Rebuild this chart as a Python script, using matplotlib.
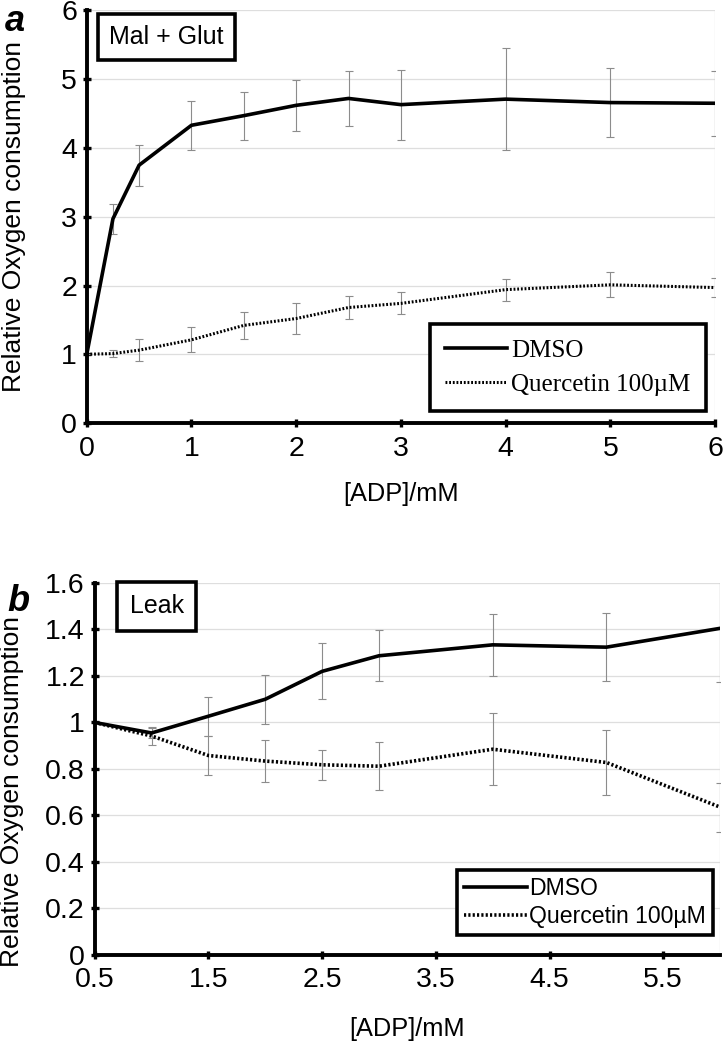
import numpy as np
import matplotlib.pyplot as plt

# panel a : Mal + Glut
adp_a = [0, 0.25, 0.5, 1, 1.5, 2, 2.5, 3, 4, 5, 6]
dmso_a = [1.0, 2.97, 3.75, 4.33, 4.47, 4.62, 4.72, 4.63, 4.71, 4.66, 4.65]
dmso_a_err = [0, 0.22, 0.30, 0.36, 0.35, 0.37, 0.40, 0.51, 0.74, 0.50, 0.47]
quer_a = [1.0, 1.01, 1.06, 1.21, 1.42, 1.52, 1.68, 1.74, 1.94, 2.01, 1.97]
quer_a_err = [0, 0.05, 0.16, 0.18, 0.20, 0.23, 0.17, 0.16, 0.16, 0.18, 0.14]

# panel b : Leak
adp_b = [0.5, 1, 1.5, 2, 2.5, 3, 4, 5, 6]
dmso_b = [1.0, 0.955, 1.027, 1.10, 1.22, 1.287, 1.334, 1.324, 1.405]
dmso_b_err = [0, 0.02, 0.083, 0.105, 0.12, 0.11, 0.133, 0.145, 0.23]
quer_b = [1.0, 0.942, 0.858, 0.834, 0.818, 0.812, 0.885, 0.828, 0.636]
quer_b_err = [0, 0.04, 0.082, 0.09, 0.065, 0.103, 0.155, 0.14, 0.105]

plt.rcParams['font.family'] = ['Liberation Sans', 'DejaVu Sans']

fig = plt.figure(figsize=(7.23, 10.42), dpi=100)
ax1 = fig.add_axes([0.120, 0.594, 0.869, 0.396])
ax2 = fig.add_axes([0.131, 0.0835, 0.865, 0.357])

ebkw = dict(fmt='none', ecolor='#8c8c8c', elinewidth=0.8, capsize=3.0, capthick=0.8, zorder=2)


def style_axes(ax, xpad, ypad):
    for s in ['top', 'right']:
        ax.spines[s].set_visible(False)
    for s in ['left', 'bottom']:
        ax.spines[s].set_linewidth(2.8)
    ax.tick_params(direction='inout', length=6, width=2.4, labelsize=20.5, pad=4)
    ax.tick_params(axis='x', pad=6)
    ax.yaxis.grid(True, color='#dedede', lw=0.9)
    ax.set_axisbelow(True)
    ax.axvline(ax.get_xlim()[1], color='#dedede', lw=0.9, zorder=0)
    ax.set_xlabel('[ADP]/mM', fontsize=18.3, labelpad=xpad)
    ax.set_ylabel('Relative Oxygen consumption', fontsize=19, labelpad=ypad)


# ---- a ----
ax1.errorbar(adp_a, dmso_a, yerr=dmso_a_err, **ebkw)
ax1.errorbar(adp_a, quer_a, yerr=quer_a_err, **ebkw)
ax1.plot(adp_a, dmso_a, color='black', lw=2.6, label='DMSO', zorder=3)
ax1.plot(adp_a, quer_a, color='black', lw=2.2, ls=(0, (0.6, 0.6)), label='Quercetin 100µM', zorder=3)
ax1.set_xlim(0, 6)
ax1.set_ylim(0, 6)
ax1.set_xticks(range(0, 7))
ax1.set_yticks(range(0, 7))
style_axes(ax1, 15, 25)
leg = ax1.legend(loc='lower right', bbox_to_anchor=(0.985, 0.03), frameon=True, fancybox=False,
                 edgecolor='black', framealpha=1, prop={'family': 'Liberation Serif', 'size': 18},
                 handlelength=2.5, handletextpad=0.15, borderpad=0.6, labelspacing=0.45,
                 borderaxespad=0)
leg.get_frame().set_linewidth(2.6)
ax1.text(0.035, 0.936, 'Mal + Glut', transform=ax1.transAxes, fontsize=18, va='center', ha='left',
         bbox=dict(boxstyle='square,pad=0.45', fc='white', ec='black', lw=2.6))
fig.text(0.006, 0.979, 'a', fontsize=26, fontweight='bold', fontstyle='italic', va='center')

# ---- b ----
ax2.errorbar(adp_b, dmso_b, yerr=dmso_b_err, **ebkw)
ax2.errorbar(adp_b, quer_b, yerr=quer_b_err, **ebkw)
ax2.plot(adp_b, dmso_b, color='black', lw=2.6, label='DMSO', zorder=3)
ax2.plot(adp_b, quer_b, color='black', lw=2.6, ls=(0, (0.6, 0.6)), label='Quercetin 100µM', zorder=3)
ax2.set_xlim(0.5, 6)
ax2.set_ylim(0, 1.6)
ax2.set_xticks(np.arange(0.5, 6, 1.0))
ax2.set_xticklabels(['0.5', '1.5', '2.5', '3.5', '4.5', '5.5'])
ax2.set_yticks(np.arange(0, 1.61, 0.2))
ax2.set_yticklabels(['0', '0.2', '0.4', '0.6', '0.8', '1', '1.2', '1.4', '1.6'])
style_axes(ax2, 17, 15)
ax2.yaxis.set_label_coords(-0.113, 0.44)
leg2 = ax2.legend(loc='lower right', bbox_to_anchor=(0.988, 0.055), frameon=True, fancybox=False,
                  edgecolor='black', framealpha=1, prop={'size': 16.6},
                  handlelength=2.7, handletextpad=0.1, borderpad=0.3, labelspacing=0.2,
                  borderaxespad=0)
leg2.get_frame().set_linewidth(2.6)
ax2.text(0.056, 0.937, 'Leak', transform=ax2.transAxes, fontsize=18, va='center', ha='left',
         bbox=dict(boxstyle='square,pad=0.5', fc='white', ec='black', lw=2.6))
fig.text(0.01, 0.423, 'b', fontsize=26, fontweight='bold', fontstyle='italic', va='center')

fig.savefig('out.png', dpi=100)
